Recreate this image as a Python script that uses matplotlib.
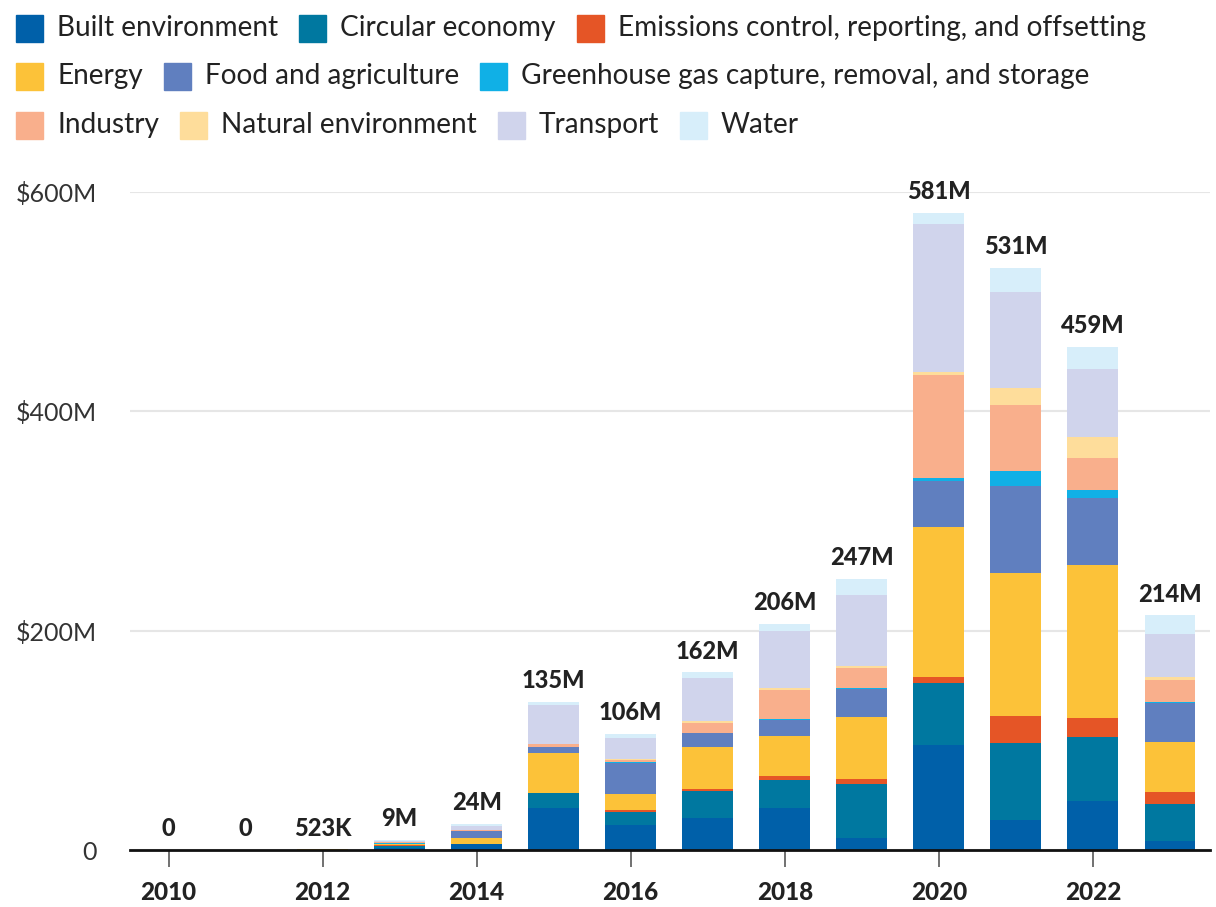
import matplotlib
matplotlib.use("Agg")
import matplotlib.pyplot as plt
from matplotlib.patches import Rectangle
import numpy as np

plt.rcParams['font.family'] = ['Lato', 'DejaVu Sans']

# funding by sector, $M
years = np.arange(2010, 2024)
categories = ["Built environment", "Circular economy",
              "Emissions control, reporting, and offsetting", "Energy",
              "Food and agriculture", "Greenhouse gas capture, removal, and storage",
              "Industry", "Natural environment", "Transport", "Water"]
colors = ["#0060a9", "#0078a0", "#e55526", "#fcc239", "#607fbf",
          "#10b0e6", "#f9af8c", "#fedd9b", "#d0d4ec", "#d7eefa"]

built      = [0, 0, 0.2,   1.5, 5.8, 38.2, 23.1, 29.2, 38.3, 10.7, 95.8, 27.3, 44.7, 8.2]
circular   = [0, 0, 0.1,   2.0, 0.0, 13.9, 11.9, 24.6, 25.7, 49.6, 56.7, 70.5, 58.2, 34.2]
emissions  = [0, 0, 0.0,   1.0, 0.0, 0.0,  1.2,  1.8,  3.7,  4.6,  5.1,  24.6, 17.6, 10.9]
energy     = [0, 0, 0.223, 0.8, 4.8, 36.2, 15.2, 38.3, 36.7, 56.1, 136.9, 130.6, 139.8, 44.9]
food       = [0, 0, 0.0,   0.3, 6.7, 5.3,  27.6, 12.6, 14.1, 25.4, 42.3, 79.0, 60.8, 35.5]
greenhouse = [0, 0, 0.0,   1.0, 0.0, 0.0,  1.5,  0.3,  0.9,  0.9,  2.0,  13.4, 7.2,  1.6]
industry   = [0, 0, 0.0,   0.6, 1.0, 2.7,  1.5,  9.0,  26.4, 18.7, 94.1, 60.0, 29.4, 20.0]
natural    = [0, 0, 0.0,   0.1, 0.0, 0.3,  1.3,  2.0,  2.2,  1.8,  3.1,  15.5, 19.0, 2.6]
transport  = [0, 0, 0.0,   1.0, 3.8, 35.7, 19.1, 39.4, 52.0, 64.4, 135.0, 87.5, 62.2, 38.7]
water      = [0, 0, 0.0,   0.7, 1.9, 2.7,  3.6,  4.8,  6.0,  14.8, 10.0, 22.6, 20.1, 17.4]

series = [built, circular, emissions, energy, food, greenhouse,
          industry, natural, transport, water]

W, H = 1216, 907
fig = plt.figure(figsize=(W / 100, H / 100), dpi=100)
ax = fig.add_axes([130 / W, 1 - 850 / H, (1210 - 130) / W, (850 - 192) / H])

bottom = np.zeros(len(years))
for vals, c in zip(series, colors):
    vals = np.array(vals, dtype=float)
    ax.bar(years, vals, bottom=bottom, width=0.66, color=c, linewidth=0, zorder=3)
    bottom += vals

def fmt_total(v):
    if v == 0:
        return "0"
    if v < 1:
        return f"{v * 1000:.0f}K"
    return f"{v:.0f}M"

for x, t in zip(years, bottom):
    ax.annotate(fmt_total(t), (x, t), xytext=(0, 7), textcoords="offset points",
                ha="center", va="bottom", fontsize=17, fontweight="black",
                color="#222222", annotation_clip=False)

ax.set_xlim(2009.5, 2023.52)
ax.set_ylim(0, 600)
ax.set_yticks([0, 200, 400, 600])
ax.set_yticklabels(["0", "$200M", "$400M", "$600M"])
ax.set_xticks(years[::2])
ax.set_xticklabels([str(y) for y in years[::2]])
ax.tick_params(axis="y", length=0, pad=24, labelsize=18, labelcolor="#333333")
ax.tick_params(axis="x", length=12, width=1.3, color="#666666", pad=10,
               labelsize=17.5, labelcolor="#222222")
for lbl in ax.get_xticklabels():
    lbl.set_fontweight("black")
ax.grid(axis="y", color="#e6e6e6", linewidth=1.5, zorder=0)
for s in ["left", "right", "top"]:
    ax.spines[s].set_visible(False)
ax.spines["bottom"].set_color("#111111")
ax.spines["bottom"].set_linewidth(2)
ax.spines["bottom"].set_zorder(4)

# legend laid out in three rows across the top
rows = [[0, 1, 2], [3, 4, 5], [6, 7, 8, 9]]
row_y = [28, 76, 125]
renderer = fig.canvas.get_renderer()
sq = 27
for row, yc in zip(rows, row_y):
    x = 16
    for i in row:
        fig.patches.append(Rectangle((x / W, 1 - (yc + sq / 2) / H), sq / W, sq / H,
                                     transform=fig.transFigure, color=colors[i]))
        t = fig.text((x + sq + 14) / W, 1 - yc / H, categories[i], fontsize=20.2,
                     color="#222222", va="center", ha="left")
        bb = t.get_window_extent(renderer)
        x = bb.x1 + 21

fig.savefig("out.png", dpi=100)
